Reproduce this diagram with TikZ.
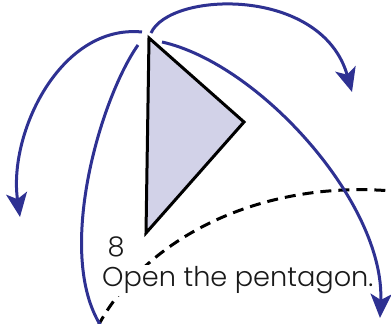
\documentclass[tikz,border=0pt]{standalone}
\usepackage{fontspec}
\setmainfont{Poppins}[UprightFont={* Light}]
\usetikzlibrary{arrows.meta}

\definecolor{foldblue}{RGB}{46,49,146}
\definecolor{paper}{RGB}{210,210,232}

\begin{document}
\begin{tikzpicture}[x=1pt, y=1pt, >={Stealth[length=24pt, width=21pt, inset=6pt]},
    fold/.style={->, foldblue, line width=3pt},
    crease/.style={black, line width=3pt, dash pattern=on 11pt off 7pt},
    hint/.style={font=\fontsize{27.2}{30}\selectfont, text=black!90}]
\useasboundingbox (0,0) rectangle (391,324);

% dashed crease
\coordinate (c1) at (98,-2);
\coordinate (c2) at (392,133);
\draw[crease] (c1) .. controls (145,86) and (260,144) .. (c2);

% triangle
\coordinate (apex) at (149,286);
\coordinate (rgt) at (244,202);
\coordinate (btm) at (146,91);
\draw[line width=3pt, fill=paper] (apex) -- (rgt) -- (btm) -- cycle;

% labels
\node[hint] (num) at (116,77) {8};
\node[hint, fill=white, anchor=base west, inner sep=2pt] (open) at (100,37) {Open the pentagon.};

% fold arcs
\coordinate (a1s) at (151,291);
\coordinate (a1e) at (352,232);
\coordinate (a2s) at (142,292);
\coordinate (a2e) at (20,107);
\coordinate (a3s) at (138,279);
\coordinate (a3e) at (101,-2);
\coordinate (a4s) at (162,282);
\coordinate (a4e) at (380,6);
\draw[fold] (a1s) .. controls (170,333) and (322,338) .. (a1e);
\draw[fold] (a2s) .. controls (60,300) and (8,190) .. (a2e);
\draw[fold, -] (a3s) .. controls (100,225) and (55,70) .. (a3e);
\draw[fold] (a4s) .. controls (260,260) and (385,120) .. (a4e);

\end{tikzpicture}
\end{document}
